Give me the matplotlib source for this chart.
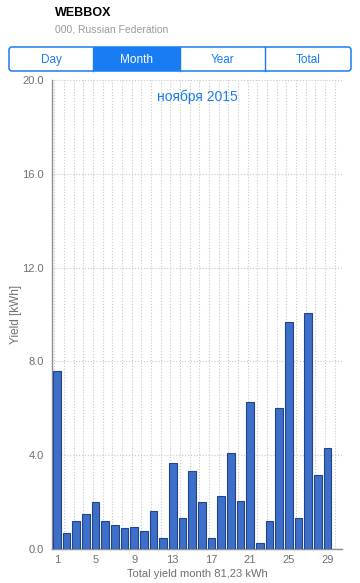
import numpy as np
import matplotlib
matplotlib.use("Agg")
import matplotlib.pyplot as plt
from matplotlib.patches import FancyBboxPatch, Rectangle

plt.rcParams['font.family'] = ['Liberation Sans', 'DejaVu Sans']

# daily yield, November 2015 (kWh)
days = np.arange(1, 31)
yield_kwh = [7.57, 0.70, 1.20, 1.51, 2.00, 1.20, 1.01, 0.91, 0.94, 0.77,
             1.61, 0.49, 3.67, 1.31, 3.31, 2.00, 0.46, 2.26, 4.11, 2.06,
             6.26, 0.26, 1.19, 6.01, 9.68, 1.31, 10.05, 3.17, 4.31, 0.0]
x_ticks = [1, 5, 9, 13, 17, 21, 25, 29]
y_ticks = [0, 4, 8, 12, 16, 20]
tabs = ["Day", "Month", "Year", "Total"]
active_tab = "Month"
month_title = "ноября 2015"
total_label = "Total yield month 81,23 kWh"

blue = "#1a7cf2"
grey_txt = "#707070"
W, H = 360, 583
fig = plt.figure(figsize=(W / 100, H / 100), dpi=100)
fig.patch.set_facecolor("white")

# header with segmented control
hdr = fig.add_axes([0, 1 - 78 / H, 1, 78 / H])
hdr.set_xlim(0, W)
hdr.set_ylim(78, 0)
hdr.axis("off")
hdr.text(55, 15.5, "WEBBOX", fontsize=9, fontweight="bold", va="baseline", ha="left", color="black")
hdr.text(55, 32.5, "000, Russian Federation", fontsize=7.5, va="baseline", ha="left", color="#9a9a9a")

seg_x0, seg_x1, seg_y0, seg_y1 = 9, 351, 47, 71
edges = [9, 93, 180, 265, 351]
for i, name in enumerate(tabs):
    a, b = edges[i], edges[i + 1]
    if name == active_tab:
        hdr.add_patch(Rectangle((a, seg_y0), b - a, seg_y1 - seg_y0, facecolor=blue, edgecolor="none"))
        c = "white"
    else:
        c = blue
    if 0 < i:
        hdr.plot([a, a], [seg_y0, seg_y1], color=blue, lw=1)
    hdr.text((a + b) / 2, 63, name, fontsize=8.5, ha="center", va="baseline", color=c)
hdr.add_patch(FancyBboxPatch((seg_x0, seg_y0), seg_x1 - seg_x0, seg_y1 - seg_y0,
                             boxstyle="round,pad=0,rounding_size=3", facecolor="none",
                             edgecolor=blue, lw=1.1))

# chart
ax = fig.add_axes([52 / W, 1 - 549 / H, (342 - 52) / W, (549 - 80) / H])
ax.bar(days, yield_kwh, width=0.82, color="#3d6fc8", edgecolor="#22438f", linewidth=0.8, zorder=3)
ax.set_xlim(0.5, 30.5)
ax.set_ylim(0, 20)
ax.set_yticks(y_ticks)
ax.set_yticklabels([f"{v:.1f}" for v in y_ticks])
ax.set_xticks(x_ticks)
ax.set_xticks(days - 0.25, minor=True)
ax.tick_params(axis="both", which="both", length=0, labelsize=8, labelcolor=grey_txt)
ax.tick_params(axis="x", pad=4)
ax.tick_params(axis="y", pad=6)
ax.grid(True, axis="y", which="major", ls=":", color="#c8c8c8", lw=0.8)
ax.grid(True, axis="x", which="minor", ls=":", color="#c8c8c8", lw=0.8)
ax.grid(False, axis="x", which="major")
for s in ["top", "right"]:
    ax.spines[s].set_visible(False)
for s in ["left", "bottom"]:
    ax.spines[s].set_color("#8e8e8e")
    ax.spines[s].set_linewidth(1)
ax.set_ylabel("Yield [kWh]", fontsize=8.5, color=grey_txt, labelpad=0)
ax.set_xlabel(total_label, fontsize=8, color=grey_txt, labelpad=3)
ax.text(0.5, 0.965, month_title, transform=ax.transAxes, ha="center", va="center",
        fontsize=10, color=blue)

fig.savefig("out.png", dpi=100, facecolor="white")
